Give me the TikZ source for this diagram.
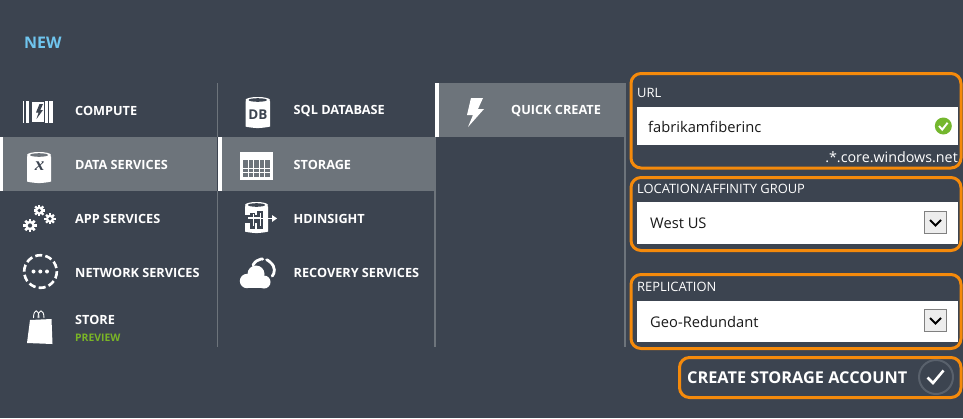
\documentclass[tikz,border=0pt]{standalone}
\usepackage{fontspec}
\setmainfont{Open Sans}
\newfontfamily\glyphserif{Liberation Serif}
\definecolor{bg}{HTML}{3C4450}
\definecolor{sel}{HTML}{6D747B}
\definecolor{ring}{HTML}{59616C}
\definecolor{org}{HTML}{F58A0B}
\definecolor{nw}{HTML}{6FC5EE}
\definecolor{pv}{HTML}{7AB526}
\definecolor{okg}{HTML}{74B72E}
\tikzset{
  menu/.style={anchor=west,text=white,inner sep=0pt,font=\bfseries\fontsize{12.7}{13}\selectfont},
  flabel/.style={anchor=west,text=white,inner sep=0pt,font=\fontsize{12.9}{14}\selectfont},
  fval/.style={anchor=west,text=black!90,inner sep=0pt,font=\fontsize{14.7}{16}\selectfont},
  frameb/.style={draw=org,line width=3pt,rounded corners=10pt},
  divider/.style={draw=sel,line width=1.5pt},
  ddbtn/.style={fill=black!7,draw=black!50,line width=.8pt},
  ddmark/.style={draw=black,line width=1.9pt},
  pics/cyl/.style n args={3}{code={
    \fill[white,rounded corners=1.5pt] (0,3) -- (0,#2-2) .. controls (0,#2) and (#1/2-3,#2+1) .. (#1/2,#2+1) .. controls (#1/2+3,#2+1) and (#1,#2) .. (#1,#2-2) -- (#1,3) -- cycle;
    \fill[white] (#1/2,3) ellipse ({#1/2} and 3);
    \fill[#3] (#1/2,3) ellipse ({#1/2-3} and 1.8);
  }},
  pics/gear/.style n args={1}{code={
    \fill[white] (0,0) circle (#1);
    \foreach \a in {0,45,...,315}{\fill[white,rotate=\a] (-#1*.28,0) rectangle (#1*.28,#1*1.38);}
    \fill[bg] (0,0) circle (#1*.45);
  }},
}
\begin{document}
\begin{tikzpicture}[x=1pt,y=-1pt]
\useasboundingbox (0,0) rectangle (963,418);
\fill[bg] (0,0) rectangle (963,418);
% selected rows
\fill[sel] (3,137) rectangle (217,191);
\fill[white] (0,137) rectangle (3,191);
\fill[sel] (222,137) rectangle (435,191);
\fill[white] (218,137) rectangle (222,191);
\fill[sel] (439,83) rectangle (624,137);
\fill[white] (435,83) rectangle (439,137);
% dividers
\draw[divider] (217.7,83) -- (217.7,137) (217.7,191) -- (217.7,347);
\draw[divider] (434.9,137) -- (434.9,347);
\draw[divider] (624.8,83) -- (624.8,347);
\node[anchor=west,text=nw,inner sep=0pt,font=\bfseries\fontsize{16}{17}\selectfont] (newt) at (24,42.3) {NEW};
% menu column 1
\node[menu] (compute) at (75,111) {COMPUTE};
\node[menu] (data) at (75,165) {DATA SERVICES};
\node[menu] (app) at (75,219) {APP SERVICES};
\node[menu] (net) at (75,273) {NETWORK SERVICES};
\node[menu] (store) at (75,320) {STORE};
\node[anchor=west,text=pv,inner sep=0pt,font=\bfseries\fontsize{10.4}{11}\selectfont] (prev) at (75,337.8) {PREVIEW};
% menu column 2
\node[menu] (sql) at (293.5,111) {SQL DATABASE};
\node[menu] (storage) at (293.5,165) {STORAGE};
\node[menu] (hd) at (293.5,219) {HDINSIGHT};
\node[menu] (rec) at (293.5,273) {RECOVERY SERVICES};
\node[menu] (quick) at (511,111) {QUICK CREATE};
% compute icon
\foreach \x/\w in {23.5/1.6,27/2.6,46/2.6,50/1.4,52/1.6}{\fill[white] (\x-.8,101) rectangle (\x+\w-.8,122.5);}
\fill[white] (32,102) rectangle (44,121.5);
\fill[bg] (39.5,104) -- (36,112.5) -- (38.6,112.5) -- (36.5,119) -- (43,110) -- (40.3,110) -- (43,104) -- cycle;
% data services icon
\pic at (27,152) {cyl={24}{30}{sel}};
\node[text=bg,inner sep=0pt,font=\glyphserif\bfseries\itshape\fontsize{19}{19}\selectfont] (xglyph) at (39.5,166.5) {x};
% app gears
\pic at (39.3,210.5) {gear={4.2}};
\pic at (50,218.7) {gear={4}};
\pic at (30,225.5) {gear={4.8}};
% network
\draw[white,line width=2.6pt,dash pattern=on 7pt off 3.2pt] (40.5,271.5) circle (16.3);
\foreach \x in {33.5,40.3,47}{\fill[white] (\x,271.5) circle (2);}
% store bag
\draw[white,line width=.9pt] (33.5,318) .. controls (33.5,308.5) and (39,308.5) .. (39,318);
\draw[white,line width=.9pt] (38,318) .. controls (38,308.5) and (44,308.5) .. (44,318);
\fill[white] (30,320) -- (51.5,319) -- (52.5,344) -- (27,343) -- cycle;
% SQL DB
\pic at (245.5,97) {cyl={24.5}{30}{bg}};
\node[text=bg,inner sep=0pt,font=\bfseries\fontsize{13.5}{13}\selectfont] (dbglyph) at (257.8,115) {DB};
% storage table
\fill[white] (240,152) rectangle (273,179.5);
\foreach \r in {0,1,2,3}{\foreach \c in {0,1,2,3,4}{
  \fill[sel] (243+\c*5.5,160+\r*4.4) rectangle +(4.6,3.5);
}}
% hdinsight
\pic at (245,202) {cyl={23}{30}{bg}};
\fill[bg] (245,215) rectangle (262,223);
\fill[bg] (250,213) rectangle (255,229);
\fill[bg] (257,211) rectangle (263,229);
\fill[white] (248,217) rectangle (261,218.6);
\fill[white] (252.5,214) rectangle (253.8,226);
\fill[white] (259.5,213) rectangle (260.8,226);
\fill[white] (261,217.5) rectangle (273,219.2);
\fill[white] (272,215) -- (277,218.4) -- (272,222) -- cycle;
% recovery
\draw[white,line width=2.8pt,line cap=round,dash pattern=on 12pt off 4pt on 20pt] (253,265) .. controls (257,258) and (265,257) .. (270,262) .. controls (276,267) and (275,273) .. (272,276.5);
\fill[white] (247,281) circle (7.2);
\fill[white] (256,274) circle (8.5);
\fill[white] (264,282) circle (6.5);
\fill[white] (247,282) rectangle (264,288.3);
% bolt
\fill[white] (471,98) -- (483,98) -- (478,109) -- (484,109) -- (468,127) -- (473,115) -- (467,115) -- cycle;
% form frames
\draw[frameb] (631,73.5) rectangle (961,168);
\draw[frameb] (631,177.5) rectangle (961,250.5);
\draw[frameb] (631,274.5) rectangle (961,348.5);
\draw[frameb] (679.5,357.5) rectangle (961,397.5);
% white inputs
\fill[white] (637,107) rectangle (958,145);
\fill[white] (637,202) rectangle (958,244);
\fill[white] (637,301) rectangle (958,342);
\node[flabel] (urll) at (637,92.7) {URL};
\node[flabel] (locl) at (637,188.7) {LOCATION/AFFINITY GROUP};
\node[flabel] (repl) at (637,286.7) {REPLICATION};
\node[fval] (urlv) at (648,126.5) {fabrikamfiberinc};
\node[fval] (locv) at (650,223.5) {West US};
\node[fval] (repv) at (650,321.5) {Geo-Redundant};
\node[anchor=east,text=white,inner sep=0pt,font=\fontsize{14.3}{16}\selectfont] (dom) at (958,157) {.*.core.windows.net};
% check
\fill[okg] (943.3,126) circle (8.5);
\draw[white,line width=1.9pt] (939,126) -- (942.2,129.6) -- (947.6,122.8);
% dropdowns
\draw[ddbtn] (924.5,211.5) rectangle (946.5,233.5);
\draw[ddmark] (930,220) -- (935.5,225.5) -- (941,220);
\draw[ddbtn] (924.5,309.5) rectangle (946.5,331.5);
\draw[ddmark] (930,318) -- (935.5,323.5) -- (941,318);
% create
\node[anchor=west,text=white,inner sep=0pt,font=\bfseries\fontsize{16.3}{17}\selectfont] (create) at (687,377.3) {CREATE STORAGE ACCOUNT};
\draw[ring,line width=2pt] (936,377) circle (17);
\draw[white,line width=2.6pt] (927.5,377.5) -- (933,383) -- (943.5,370.5);
\end{tikzpicture}
\end{document}
